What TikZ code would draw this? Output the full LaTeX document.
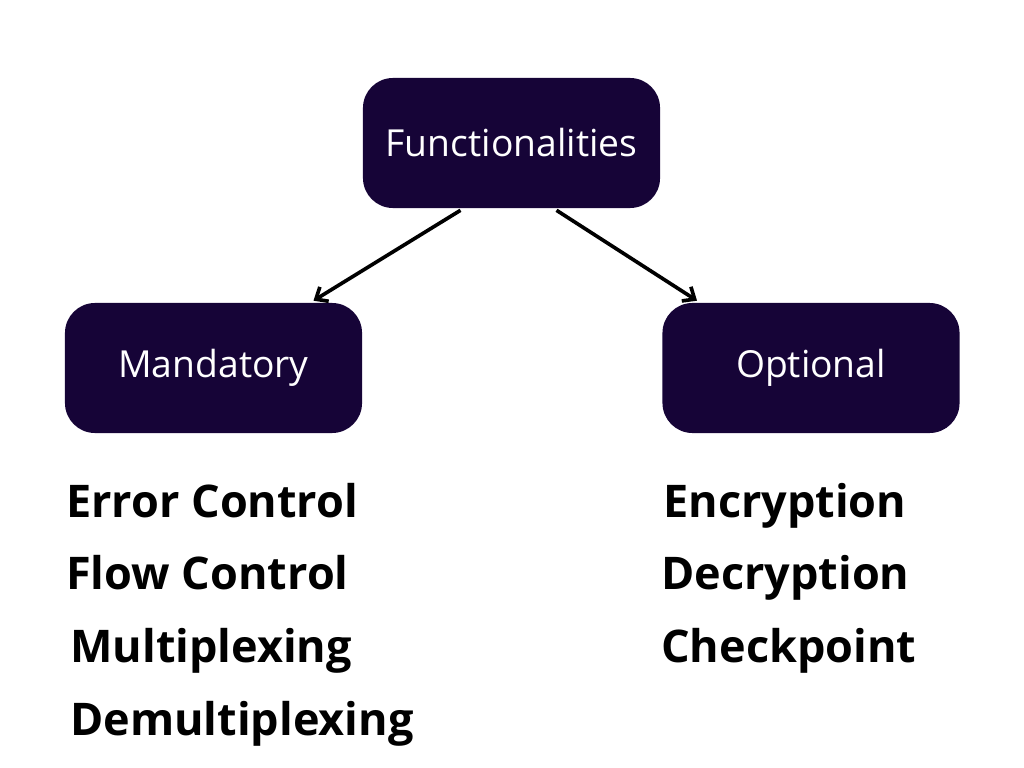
\documentclass[tikz,border=0pt]{standalone}
\usepackage{fontspec}
\setmainfont{Open Sans}
\usetikzlibrary{positioning, arrows.meta, calc}
\definecolor{boxfill}{HTML}{160437}
\tikzset{
    topic/.style={fill=boxfill, text=white, rounded corners=0.75cm, minimum width=7.425cm, minimum height=3.25cm, font=\fontsize{26.5}{32}\selectfont}, % Dark boxes
    item/.style={anchor=base west, inner sep=0pt, font=\fontsize{32}{38}\selectfont\bfseries}, % Bold list entries
    link/.style={-{Straight Barb[length=7pt, width=12pt, line width=2.6pt]}, line width=2.6pt}, % Arrows
}
\begin{document}
\begin{tikzpicture}[x=0.025cm, y=-0.025cm]
        \useasboundingbox (0,0) rectangle (1024,768);

        % Boxes
        \node[topic] (func) at (511.5,143) {Functionalities};
        \node[topic] (mand) at (213.5,368) {Mandatory};
        \node[topic] (opt) at (811,368) {Optional};

        % Mandatory list
        \node[item] (err) at (66,517) {Error Control};
        \node[item] (flow) at (66,589) {Flow Control};
        \node[item] (mux) at (70,662) {Multiplexing};
        \node[item] (demux) at (70,735) {Demultiplexing};

        % Optional list
        \node[item] (enc) at (663,517) {Encryption};
        \node[item] (dec) at (661,589) {Decryption};
        \node[item] (chk) at (661,662) {Checkpoint};

        % Arrows
        \draw[link] ($(func.south)+(-51,2)$) -- ($(mand.north)+(100,-2)$);
        \draw[link] ($(func.south)+(45,2)$) -- ($(opt.north)+(-114,-2)$);
    \end{tikzpicture}
\end{document}
